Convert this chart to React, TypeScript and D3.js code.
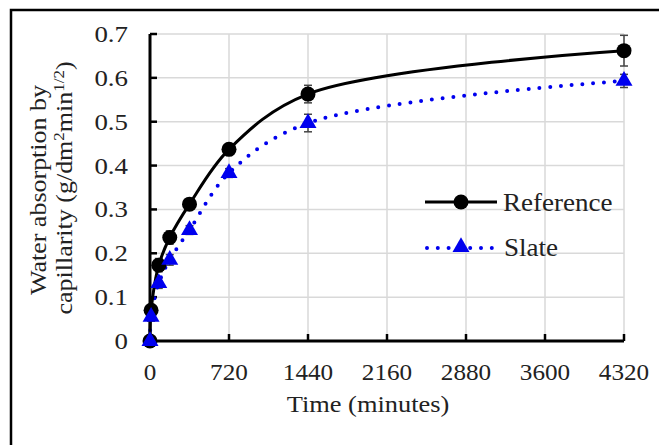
import React from "react";
import * as d3 from "d3";

const times = [0, 10, 80, 180, 360, 720, 1440, 4320];
const referenceValues = [0.0, 0.07, 0.173, 0.236, 0.312, 0.437, 0.563, 0.662];
const referenceErrors = [0, 0.01, 0.015, 0.015, 0.012, 0.01, 0.02, 0.035];
const slateTimes = [0, 10, 80, 180, 360, 720, 1440, 4320];
const slateValues = [0.0, 0.055, 0.132, 0.185, 0.253, 0.383, 0.497, 0.593];
const slateErrors = [0, 0.01, 0.012, 0.012, 0.01, 0.01, 0.02, 0.015];
const xTicks = [0, 720, 1440, 2160, 2880, 3600, 4320];
const yTicks = [0, 0.1, 0.2, 0.3, 0.4, 0.5, 0.6, 0.7];

const W = 659, H = 445;
const left = 150, right = 624, top = 34, bottom = 341;
const font = "Liberation Serif";

function T(props: { x: number; y: number; anchor?: string; size?: number; sx?: number; children: any }) {
  const { x, y, anchor = "start", size = 24, sx = 1.05, children } = props;
  return (
    <g transform={`translate(${x},${y}) scale(${sx},1)`}>
      <text x={0} y={0} textAnchor={anchor} fontSize={size} fill="#222" style={{ fontFamily: font }}>
        {children}
      </text>
    </g>
  );
}

export default function App() {
  const x = d3.scaleLinear().domain([0, 4320]).range([left, right]);
  const y = d3.scaleLinear().domain([0, 0.7]).range([bottom, top]);
  const refData = times.map((t, i) => [t, referenceValues[i]] as [number, number]);
  const slateData = slateTimes.map((t, i) => [t, slateValues[i]] as [number, number]);
  const line = d3.line<[number, number]>().x(d => x(d[0])).y(d => y(d[1])).curve(d3.curveCatmullRom.alpha(0.5));
  const tri = d3.symbol().type(d3.symbolTriangle).size(125)()!;

  return (
    <svg width={W} height={H} style={{ position: "absolute", left: 0, top: 0, background: "#fff" }}>
      <rect x={0} y={0} width={W} height={H} fill="#fff" />
      <rect x={11} y={10} width={700} height={500} fill="none" stroke="#000" strokeWidth={2.5} />
      {xTicks.map(t => (
        <line key={"gx" + t} x1={x(t)} x2={x(t)} y1={top} y2={bottom} stroke="#d9d9d9" strokeWidth={1.5} />
      ))}
      {yTicks.map(v => (
        <line key={"gy" + v} x1={left} x2={right} y1={y(v)} y2={y(v)} stroke="#d9d9d9" strokeWidth={1.5} />
      ))}
      <line x1={left} x2={left} y1={top} y2={bottom} stroke="#000" strokeWidth={3} />
      <line x1={left} x2={right} y1={bottom} y2={bottom} stroke="#000" strokeWidth={3} />
      {yTicks.map(v => (
        <line key={"ty" + v} x1={left} x2={left + 7} y1={y(v)} y2={y(v)} stroke="#000" strokeWidth={2.5} />
      ))}
      {xTicks.map(t => (
        <line key={"tx" + t} x1={x(t)} x2={x(t)} y1={bottom} y2={bottom - 7} stroke="#000" strokeWidth={2.5} />
      ))}
      {yTicks.map(v => (
        <T key={"ly" + v} x={128} y={y(v) + 8} anchor="end" sx={1.12}>
          {v === 0 ? "0" : d3.format(".1f")(v)}
        </T>
      ))}
      {xTicks.map(t => (
        <T key={"lx" + t} x={x(t)} y={380} anchor="middle">{t}</T>
      ))}
      <T x={368} y={412} anchor="middle" sx={1.1}>Time (minutes)</T>
      <g transform="translate(46,190) rotate(-90) scale(1.13,1)">
        <text x={0} y={0} textAnchor="middle" fontSize={23} fill="#222" style={{ fontFamily: font }}>Water absorption by</text>
      </g>
      <g transform="translate(72,188) rotate(-90) scale(1.13,1)">
        <text x={0} y={0} textAnchor="middle" fontSize={23} fill="#222" style={{ fontFamily: font }}>
          capillarity (g/dm<tspan fontSize={15} dy={-8}>2</tspan><tspan dy={8}>min</tspan><tspan fontSize={15} dy={-8}>1/2</tspan><tspan dy={8}>)</tspan>
        </text>
      </g>
      {refData.map((d, i) => referenceErrors[i] > 0 && (
        <g key={"er" + i} stroke="#444" strokeWidth={1.5}>
          <line x1={x(d[0])} x2={x(d[0])} y1={y(d[1] - referenceErrors[i])} y2={y(d[1] + referenceErrors[i])} />
          <line x1={x(d[0]) - 4} x2={x(d[0]) + 4} y1={y(d[1] + referenceErrors[i])} y2={y(d[1] + referenceErrors[i])} />
          <line x1={x(d[0]) - 4} x2={x(d[0]) + 4} y1={y(d[1] - referenceErrors[i])} y2={y(d[1] - referenceErrors[i])} />
        </g>
      ))}
      {slateData.map((d, i) => slateErrors[i] > 0 && (
        <g key={"es" + i} stroke="#444" strokeWidth={1.5}>
          <line x1={x(d[0])} x2={x(d[0])} y1={y(d[1] - slateErrors[i])} y2={y(d[1] + slateErrors[i])} />
          <line x1={x(d[0]) - 4} x2={x(d[0]) + 4} y1={y(d[1] + slateErrors[i])} y2={y(d[1] + slateErrors[i])} />
          <line x1={x(d[0]) - 4} x2={x(d[0]) + 4} y1={y(d[1] - slateErrors[i])} y2={y(d[1] - slateErrors[i])} />
        </g>
      ))}
      <path d={line(slateData)!} fill="none" stroke="#0000ee" strokeWidth={4} strokeDasharray="0 10.8" strokeLinecap="round" />
      <path d={line(refData)!} fill="none" stroke="#000" strokeWidth={3} />
      {refData.map((d, i) => (
        <circle key={"cr" + i} cx={x(d[0])} cy={y(d[1])} r={7.5} fill="#000" />
      ))}
      {slateData.map((d, i) => (
        <path key={"ms" + i} d={tri} transform={`translate(${x(d[0])},${y(d[1])})`} fill="#0000ee" />
      ))}
      <line x1={425} x2={497} y1={202} y2={202} stroke="#000" strokeWidth={3} />
      <circle cx={461} cy={202} r={7.5} fill="#000" />
      <T x={503} y={211} size={26} sx={1.04}>Reference</T>
      <line x1={427} x2={495} y1={248} y2={248} stroke="#0000ee" strokeWidth={4} strokeDasharray="0 10.8" strokeLinecap="round" />
      <path d={tri} transform="translate(461,247)" fill="#0000ee" />
      <T x={504} y={256} size={26} sx={1.04}>Slate</T>
    </svg>
  );
}
